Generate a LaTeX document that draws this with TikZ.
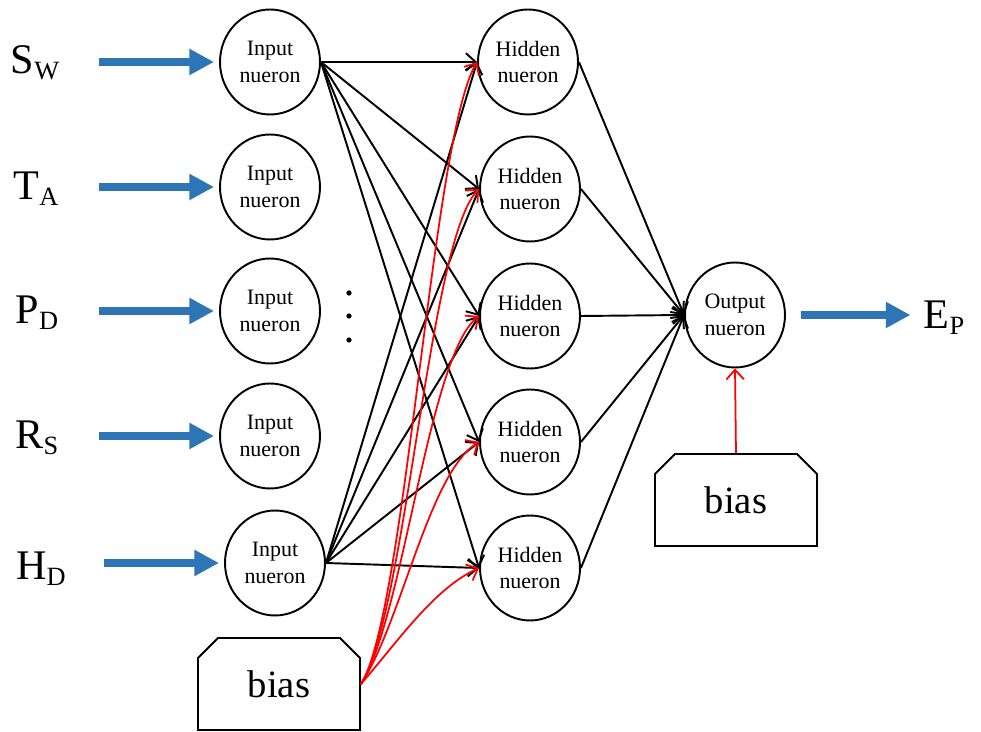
\documentclass[tikz,border=0pt]{standalone}
\usepackage{fontspec}
\setmainfont{Liberation Serif}
\usepackage{tikz}
\usetikzlibrary{arrows.meta,shapes.geometric,shapes.misc,shadows}

\definecolor{inblue}{RGB}{46,117,182}

\newcommand{\lsub}[2]{#1\raisebox{-0.3ex}{\fontsize{15}{15}\selectfont #2}}

\tikzset{
  neuron/.style={draw, ellipse, line width=1.1pt, minimum width=2cm, minimum height=2.1cm,
    inner sep=1pt, align=center, font=\fontsize{12.5}{15}\selectfont},
  varlabel/.style={inner sep=0pt, font=\fontsize{24}{28}\selectfont},
  biasbox/.style={draw, line width=1.1pt, chamfered rectangle,
    chamfered rectangle corners={north west,north east},
    chamfered rectangle xsep=0.2cm, chamfered rectangle ysep=0.2cm,
    minimum width=3.24cm, minimum height=1.84cm, fill=white,
    font=\fontsize{22}{26}\selectfont,
    drop shadow={opacity=0.25, shadow xshift=0.8pt, shadow yshift=-0.8pt}},
  inarrow/.style={inblue, line width=5pt, -{Triangle[length=14pt,width=14pt]}},
  weight/.style={line width=1.1pt, ->},
  biasline/.style={red, line width=1pt, ->},
  >={Straight Barb[length=5.5pt,width=10pt]}
}

\begin{document}
\begin{tikzpicture}[x=0.02cm, y=-0.02cm]
  \useasboundingbox (0,0) rectangle (981,732);
  % layers
  \foreach \n/\x/\y in {1/270/62, 2/270/187, 3/270/311, 4/270/436, 5/275/563}
    \node[neuron] (i\n) at (\x,\y) {Input\\nueron};
  \foreach \n/\x/\y in {1/528/62, 2/530/189, 3/530/316, 4/530/442, 5/530/568}
    \node[neuron] (h\n) at (\x,\y) {Hidden\\nueron};
  \node[neuron] (o) at (735,315) {Output\\nueron};
  % variables
  \node[varlabel] (sw) at (35,63) {\lsub{S}{W}};
  \node[varlabel] (ta) at (36,189) {\lsub{T}{A}};
  \node[varlabel] (pd) at (37,313) {\lsub{P}{D}};
  \node[varlabel] (rs) at (37,438) {\lsub{R}{S}};
  \node[varlabel] (hd) at (41,569) {\lsub{H}{D}};
  \node[varlabel] (ep) at (944,318) {\lsub{E}{P}};
  % bias
  \node[biasbox] (b1) at (279,684) {bias};
  \node[biasbox] (b2) at (736,500) {bias};
  % arrows
  \foreach \n in {1,...,5}
    \draw[inarrow] ([xshift=-2.4cm]i\n.west) -- ([xshift=-0.1cm]i\n.west);
  \draw[inarrow] ([xshift=0.3cm]o.east) -- ([xshift=-0.26cm]o.east -| ep.west);
  \foreach \m in {1,...,5} {
    \draw[weight] (i1.east) -- (h\m.west);
    \draw[weight] (i5.east) -- (h\m.west);
    \draw[weight] (h\m.east) -- (o.west);
  }
  \foreach \m/\a/\b/\c/\d in {1/45/-70/-45/75, 2/45/-70/-50/50, 3/42/-65/-50/38,
      4/40/-60/-50/30, 5/35/-40/-45/20}
    \draw[biasline] (b1.east) .. controls +(\a,\b) and +(\c,\d) .. (h\m.west);
  \draw[biasline] (b2.north) -- (o.south);
  % dots
  \foreach \y in {293,316,340}
    \fill (349,\y) circle[radius=1.5pt];
\end{tikzpicture}
\end{document}
